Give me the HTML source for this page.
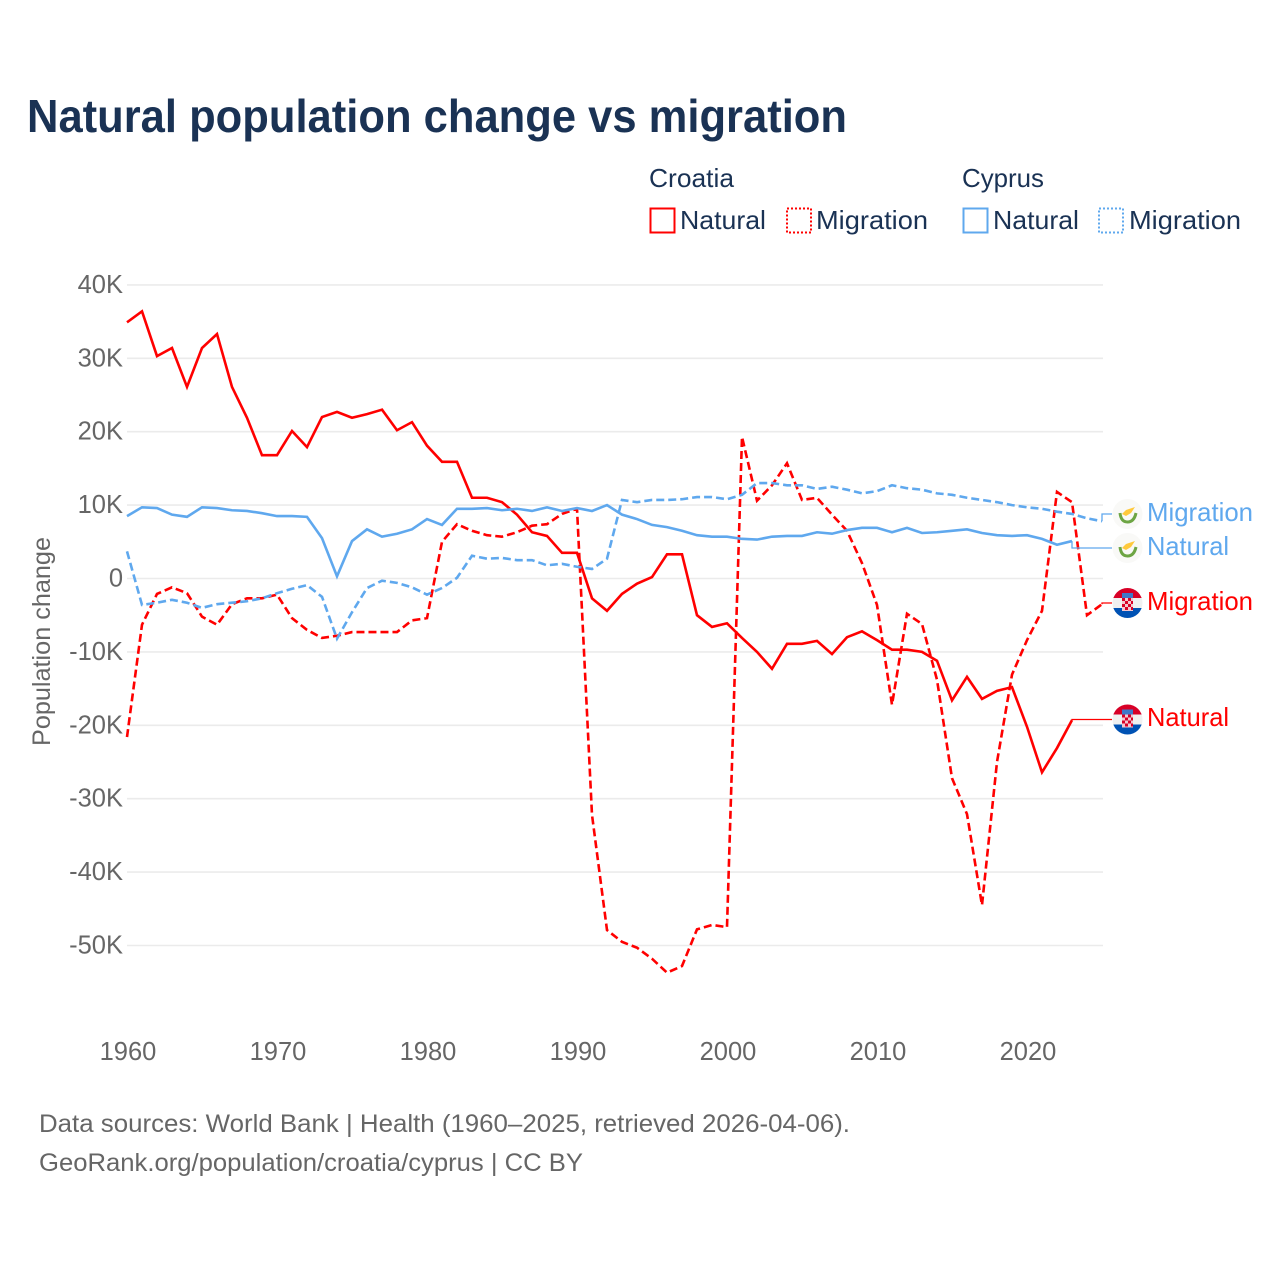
<!DOCTYPE html>
<html lang="en">
<head>
<meta charset="utf-8">
<title>Natural population change vs migration</title>
<style>
html,body{margin:0;padding:0;background:#fff;width:1280px;height:1280px;overflow:hidden}
svg{display:block}
text{font-family:"Liberation Sans",sans-serif}
</style>
</head>
<body>
<svg id="chart" xmlns="http://www.w3.org/2000/svg" width="1280" height="1280" viewBox="0 0 1280 1280">
  <defs>
    <clipPath id="flag-clip-cy-mig"><circle cx="1127.5" cy="514" r="15"/></clipPath>
    <clipPath id="flag-clip-cy-nat"><circle cx="1127.5" cy="548" r="15"/></clipPath>
    <clipPath id="flag-clip-hr-mig"><circle cx="1127.5" cy="603" r="15"/></clipPath>
    <clipPath id="flag-clip-hr-nat"><circle cx="1127.5" cy="719.5" r="15"/></clipPath>
  </defs>

  <text x="27" y="132" font-size="46" font-weight="700" fill="#1a3254" textLength="820" lengthAdjust="spacingAndGlyphs">Natural population change vs migration</text>

  <g fill="#1a3254" font-size="26">
    <text x="649" y="187" textLength="85" lengthAdjust="spacingAndGlyphs">Croatia</text>
    <text x="962" y="187" textLength="82" lengthAdjust="spacingAndGlyphs">Cyprus</text>
    <rect x="650.5" y="208.5" width="24" height="24" fill="none" stroke="#ff0000" stroke-width="2"/>
    <text x="680" y="229" textLength="86" lengthAdjust="spacingAndGlyphs">Natural</text>
    <rect x="787" y="208.5" width="24" height="24" fill="none" stroke="#ff0000" stroke-width="2" stroke-dasharray="2 2"/>
    <text x="816" y="229" textLength="112" lengthAdjust="spacingAndGlyphs">Migration</text>
    <rect x="963.5" y="208.5" width="24" height="24" fill="none" stroke="#5fa8ee" stroke-width="2"/>
    <text x="993" y="229" textLength="86" lengthAdjust="spacingAndGlyphs">Natural</text>
    <rect x="1099" y="208.5" width="24" height="24" fill="none" stroke="#5fa8ee" stroke-width="2" stroke-dasharray="2 2"/>
    <text x="1129" y="229" textLength="112" lengthAdjust="spacingAndGlyphs">Migration</text>
  </g>

  <g id="grid"></g>
  <g id="y-ticks"></g>
  <g id="x-ticks"></g>
  <text transform="translate(50 641.5) rotate(-90)" text-anchor="middle" font-size="25" fill="#666666" textLength="209" lengthAdjust="spacingAndGlyphs">Population change</text>
  <g id="series"></g>
  <g id="connectors"></g>

  <g clip-path="url(#flag-clip-cy-mig)">
    <rect x="1112" y="499" width="31" height="30" fill="#f9f9f7"/>
    <path d="M1122 514 L1126 510 L1135 507 L1131 513 L1126 516 Z" fill="#ffc93c"/>
    <path d="M1120 513 Q1121 522 1127.5 522 Q1134 522 1136 513" fill="none" stroke="#6da544" stroke-width="3"/>
  </g>
  <g clip-path="url(#flag-clip-cy-nat)">
    <rect x="1112" y="533" width="31" height="30" fill="#f9f9f7"/>
    <path d="M1122 548 L1126 544 L1135 541 L1131 547 L1126 550 Z" fill="#ffc93c"/>
    <path d="M1120 547 Q1121 556 1127.5 556 Q1134 556 1136 547" fill="none" stroke="#6da544" stroke-width="3"/>
  </g>
  <g clip-path="url(#flag-clip-hr-mig)">
    <rect x="1112" y="588" width="31" height="10" fill="#d80027"/>
    <rect x="1112" y="598" width="31" height="10" fill="#f0f0f0"/>
    <rect x="1112" y="608" width="31" height="10" fill="#0052b4"/>
    <rect x="1122" y="593" width="11" height="5" fill="#3f78c8"/>
    <rect x="1122" y="598" width="11" height="13" fill="#f3c6cf"/>
    <path d="M1122 598h3v3h-3zM1128 598h3v3h-3zM1125 601h3v3h-3zM1131 601h2v3h-2zM1122 604h3v3h-3zM1128 604h3v3h-3zM1125 607h3v3h-3zM1131 607h2v3h-2z" fill="#d80027"/>
  </g>
  <g clip-path="url(#flag-clip-hr-nat)">
    <rect x="1112" y="704.5" width="31" height="10" fill="#d80027"/>
    <rect x="1112" y="714.5" width="31" height="10" fill="#f0f0f0"/>
    <rect x="1112" y="724.5" width="31" height="10" fill="#0052b4"/>
    <rect x="1122" y="709.5" width="11" height="5" fill="#3f78c8"/>
    <rect x="1122" y="714.5" width="11" height="13" fill="#f3c6cf"/>
    <path d="M1122 714.5h3v3h-3zM1128 714.5h3v3h-3zM1125 717.5h3v3h-3zM1131 717.5h2v3h-2zM1122 720.5h3v3h-3zM1128 720.5h3v3h-3zM1125 723.5h3v3h-3zM1131 723.5h2v3h-2z" fill="#d80027"/>
  </g>

  <g font-size="26">
    <text x="1147" y="521" fill="#5fa8ee" textLength="106" lengthAdjust="spacingAndGlyphs">Migration</text>
    <text x="1147" y="555" fill="#5fa8ee" textLength="82" lengthAdjust="spacingAndGlyphs">Natural</text>
    <text x="1147" y="610" fill="#ff0000" textLength="106" lengthAdjust="spacingAndGlyphs">Migration</text>
    <text x="1147" y="726" fill="#ff0000" textLength="82" lengthAdjust="spacingAndGlyphs">Natural</text>
  </g>

  <g font-size="25" fill="#666666">
    <text x="39" y="1132" textLength="811" lengthAdjust="spacingAndGlyphs">Data sources: World Bank | Health (1960–2025, retrieved 2026-04-06).</text>
    <text x="39" y="1171" textLength="544" lengthAdjust="spacingAndGlyphs">GeoRank.org/population/croatia/cyprus | CC BY</text>
  </g>
</svg>

<script>
const startYear = 1960;
const yTickValues = [40, 30, 20, 10, 0, -10, -20, -30, -40, -50];
const yTickLabels = ["40K", "30K", "20K", "10K", "0", "-10K", "-20K", "-30K", "-40K", "-50K"];
const xTickYears = [1960, 1970, 1980, 1990, 2000, 2010, 2020];

const croatiaNatural = [34.9,36.4,30.3,31.4,26.1,31.4,33.3,26.1,21.9,16.8,16.8,20.1,17.9,22.0,22.7,21.9,22.4,23.0,20.2,21.3,18.1,15.9,15.9,11.0,11.0,10.4,8.7,6.3,5.8,3.5,3.5,-2.7,-4.4,-2.1,-0.7,0.2,3.3,3.3,-5.0,-6.6,-6.1,-8.1,-10.0,-12.3,-8.9,-8.9,-8.5,-10.3,-8.0,-7.2,-8.4,-9.7,-9.7,-10.0,-11.2,-16.6,-13.4,-16.4,-15.3,-14.8,-20.2,-26.4,-23.1,-19.3];
const croatiaMigration = [-21.6,-6.3,-2.1,-1.2,-2.0,-5.2,-6.3,-3.5,-2.7,-2.7,-2.2,-5.4,-7.0,-8.1,-7.8,-7.3,-7.3,-7.3,-7.3,-5.7,-5.4,5.0,7.4,6.5,5.9,5.7,6.3,7.2,7.4,8.8,9.5,-32.2,-47.9,-49.5,-50.3,-51.8,-53.7,-52.8,-47.8,-47.2,-47.5,19.3,10.6,12.7,15.7,10.7,11.0,8.7,6.5,2.1,-3.6,-17.2,-4.8,-6.2,-13.8,-27.2,-32.1,-44.5,-25.0,-13.1,-8.4,-4.4,11.8,10.4,-5.0,-3.5];
const cyprusNatural = [8.5,9.7,9.6,8.7,8.4,9.7,9.6,9.3,9.2,8.9,8.5,8.5,8.4,5.5,0.3,5.1,6.7,5.7,6.1,6.7,8.1,7.3,9.5,9.5,9.6,9.3,9.5,9.2,9.7,9.2,9.6,9.2,10.0,8.7,8.1,7.3,7.0,6.5,5.9,5.7,5.7,5.4,5.3,5.7,5.8,5.8,6.3,6.1,6.6,6.9,6.9,6.3,6.9,6.2,6.3,6.5,6.7,6.2,5.9,5.8,5.9,5.4,4.6,5.1];
const cyprusMigration = [3.7,-3.6,-3.3,-2.9,-3.3,-4.0,-3.5,-3.3,-3.1,-2.7,-2.0,-1.4,-0.9,-2.5,-8.2,-4.6,-1.3,-0.3,-0.6,-1.2,-2.2,-1.3,0.1,3.1,2.7,2.8,2.5,2.5,1.8,2.0,1.6,1.3,2.7,10.7,10.4,10.7,10.7,10.8,11.1,11.1,10.8,11.4,13.0,13.0,12.7,12.7,12.2,12.5,12.1,11.6,11.9,12.7,12.3,12.1,11.6,11.4,11.0,10.7,10.4,10.0,9.7,9.5,9.1,8.8,8.2,7.8];

const NS = "http://www.w3.org/2000/svg";
function xScale(year) { return 127 + (year - 1960) * 15; }
function yScale(thousands) { return 578.5 - thousands * 7.34; }
function make(tag, parentId) {
  const el = document.createElementNS(NS, tag);
  document.getElementById(parentId).appendChild(el);
  return el;
}
function pathFor(values) {
  return values.map(function (v, i) {
    return (i ? "L" : "M") + xScale(startYear + i).toFixed(2) + " " + yScale(v).toFixed(2);
  }).join(" ");
}

yTickValues.forEach(function (v, i) {
  const line = make("line", "grid");
  
  
  line.setAttribute("x1", xScale(1960));
  line.setAttribute("x2", 1103);
  line.setAttribute("y1", yScale(v));
  line.setAttribute("y2", yScale(v));
  line.setAttribute("stroke", "#ebebeb");
  line.setAttribute("stroke-width", "1.6");

  const label = make("text", "y-ticks");
  
  
  label.setAttribute("x", 123);
  label.setAttribute("y", yScale(v) + 8);
  label.setAttribute("text-anchor", "end");
  label.setAttribute("font-size", "25.5");
  label.setAttribute("fill", "#666666");
  label.textContent = yTickLabels[i];
});

xTickYears.forEach(function (year) {
  const label = make("text", "x-ticks");
  
  
  label.setAttribute("x", xScale(year) + 1);
  label.setAttribute("y", 1060);
  label.setAttribute("text-anchor", "middle");
  label.setAttribute("font-size", "25.5");
  label.setAttribute("fill", "#666666");
  label.textContent = String(year);
});

const natCroatia = make("path", "series");


natCroatia.setAttribute("d", pathFor(croatiaNatural));
natCroatia.setAttribute("fill", "none");
natCroatia.setAttribute("stroke", "#ff0000");
natCroatia.setAttribute("stroke-width", "2.6");

const migCroatia = make("path", "series");


migCroatia.setAttribute("d", pathFor(croatiaMigration));
migCroatia.setAttribute("fill", "none");
migCroatia.setAttribute("stroke", "#ff0000");
migCroatia.setAttribute("stroke-width", "2.6");
migCroatia.setAttribute("stroke-dasharray", "8 4");

const natCyprus = make("path", "series");


natCyprus.setAttribute("d", pathFor(cyprusNatural));
natCyprus.setAttribute("fill", "none");
natCyprus.setAttribute("stroke", "#5fa8ee");
natCyprus.setAttribute("stroke-width", "2.6");

const migCyprus = make("path", "series");


migCyprus.setAttribute("d", pathFor(cyprusMigration));
migCyprus.setAttribute("fill", "none");
migCyprus.setAttribute("stroke", "#5fa8ee");
migCyprus.setAttribute("stroke-width", "2.6");
migCyprus.setAttribute("stroke-dasharray", "8 4");

function lastPoint(values) {
  const i = values.length - 1;
  return [xScale(startYear + i), yScale(values[i])];
}

const linkCyMig = make("polyline", "connectors");


const endCyMig = lastPoint(cyprusMigration);
linkCyMig.setAttribute("points", endCyMig[0] + "," + endCyMig[1] + " " + endCyMig[0] + ",514 1112,514");
linkCyMig.setAttribute("fill", "none");
linkCyMig.setAttribute("stroke", "#5fa8ee");
linkCyMig.setAttribute("stroke-width", "1.3");

const linkCyNat = make("polyline", "connectors");


const endCyNat = lastPoint(cyprusNatural);
linkCyNat.setAttribute("points", endCyNat[0] + "," + endCyNat[1] + " " + endCyNat[0] + ",548 1112,548");
linkCyNat.setAttribute("fill", "none");
linkCyNat.setAttribute("stroke", "#5fa8ee");
linkCyNat.setAttribute("stroke-width", "1.3");

const linkHrMig = make("polyline", "connectors");


const endHrMig = lastPoint(croatiaMigration);
linkHrMig.setAttribute("points", endHrMig[0] + "," + endHrMig[1] + " " + endHrMig[0] + ",603 1112,603");
linkHrMig.setAttribute("fill", "none");
linkHrMig.setAttribute("stroke", "#ff0000");
linkHrMig.setAttribute("stroke-width", "1.3");

const linkHrNat = make("polyline", "connectors");


const endHrNat = lastPoint(croatiaNatural);
linkHrNat.setAttribute("points", endHrNat[0] + "," + endHrNat[1] + " " + endHrNat[0] + ",719.5 1112,719.5");
linkHrNat.setAttribute("fill", "none");
linkHrNat.setAttribute("stroke", "#ff0000");
linkHrNat.setAttribute("stroke-width", "1.3");
</script>
</body>
</html>
